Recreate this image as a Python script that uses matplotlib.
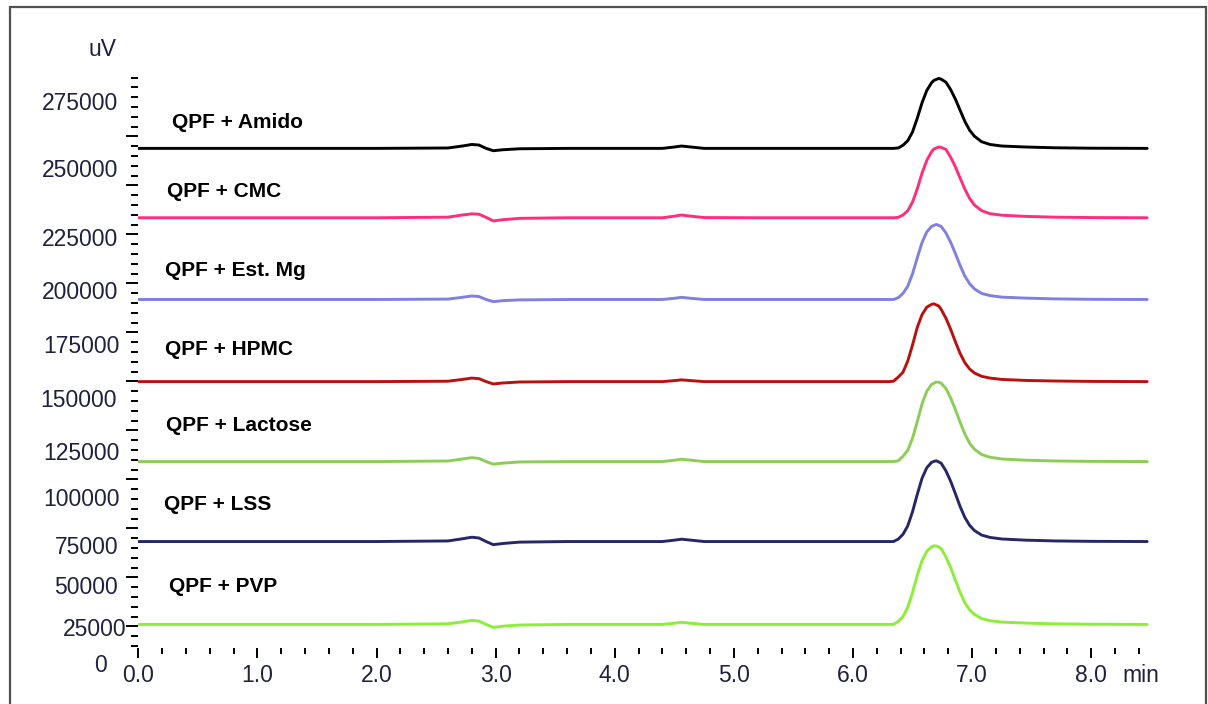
import numpy as np
import matplotlib.pyplot as plt
from matplotlib.patches import Rectangle
from matplotlib.ticker import FixedLocator, MultipleLocator

plt.rcParams['font.family'] = ['Liberation Sans', 'DejaVu Sans']

samples = ["QPF + Amido", "QPF + CMC", "QPF + Est. Mg", "QPF + HPMC",
           "QPF + Lactose", "QPF + LSS", "QPF + PVP"]
colors = ["#000000", "#ff2d7c", "#8080de", "#bb1010",
          "#8ccd55", "#262668", "#8cee38"]

# display offset of each trace (uV)
offsets = [268900, 233500, 191800, 149900, 109100, 68300, 26000]

time_min = [0.0, 1.0, 2.0, 2.6, 2.72, 2.8, 2.86, 2.92, 2.98, 3.06, 3.2, 3.6,
            4.4, 4.5, 4.56, 4.64, 4.75, 5.2, 6.0,
            6.30, 6.34, 6.38, 6.42, 6.46, 6.50, 6.54, 6.58, 6.62, 6.66, 6.68,
            6.70, 6.72, 6.74, 6.78, 6.82, 6.86, 6.90, 6.94, 6.98, 7.02, 7.08,
            7.15, 7.25, 7.45, 7.70, 8.0, 8.47]

amido = [0, 0, 0, 200, 1200, 2000, 1700, 0, -1200, -700, -200, 0,
         0, 700, 1200, 700, 0, 0, 0,
         0, 0, 200, 1600, 3900, 8400, 15400, 23300, 29600, 33500, 34700,
         35200, 35700, 35300, 33800, 30000, 25100, 19400, 13700, 9200, 6200,
         3400, 2000, 1200, 700, 300, 100, 0]
cmc = [0, 0, 0, 300, 1400, 2000, 1800, 200, -1600, -1000, -300, 0,
       0, 800, 1400, 800, 100, 0, 0,
       0, 0, 200, 1400, 3600, 8000, 14800, 22800, 29300, 33700, 35100,
       35600, 36100, 35900, 34900, 30900, 26000, 20200, 14500, 9800, 6500,
       3600, 2100, 1300, 700, 300, 100, 0]
est_mg = [0, 0, 0, 200, 1100, 1800, 1500, 0, -1100, -600, -200, 0,
          0, 600, 1100, 600, 0, 0, 0,
          0, 0, 900, 3100, 6800, 13100, 21300, 29100, 34500, 37300, 37800,
          38300, 37800, 37300, 34000, 29200, 23400, 17300, 11900, 8000, 5400,
          3100, 2000, 1200, 700, 300, 100, 0]
hpmc = [0, 0, 0, 200, 1100, 1800, 1500, 0, -1200, -700, -200, 0,
        0, 500, 900, 500, 0, 0, 0,
        0, 200, 2300, 4800, 10500, 18700, 27700, 34200, 38000, 39400, 39700,
        39100, 38600, 36900, 32400, 26700, 20300, 14300, 9600, 6400, 4400,
        2700, 1800, 1100, 600, 300, 100, 0]
lactose = [0, 0, 0, 300, 1300, 2000, 1600, 0, -1300, -800, -200, 0,
           0, 700, 1200, 700, 0, 0, 0,
           0, 0, 400, 2700, 5800, 11900, 20400, 29500, 35900, 39400, 40000,
           40600, 40500, 40000, 37300, 32500, 26500, 20000, 14000, 9300, 6300,
           3600, 2200, 1300, 700, 300, 100, 0]
lss = [0, 0, 0, 300, 1400, 2200, 1800, 0, -1600, -1000, -300, 0,
       0, 700, 1200, 700, 0, 0, 0,
       0, 0, 1200, 3700, 8000, 15200, 24100, 32300, 37700, 40400, 40900,
       41200, 40600, 40000, 36100, 30800, 24400, 17800, 12200, 8200, 5600,
       3300, 2100, 1300, 700, 300, 100, 0]
pvp = [0, 0, 0, 300, 1300, 2100, 1700, 0, -1500, -900, -300, 0,
       0, 600, 1100, 600, 0, 0, 0,
       0, 0, 1500, 4000, 8800, 16300, 25100, 32600, 37300, 39600, 40100,
       40000, 39500, 38700, 34500, 29000, 22600, 16300, 11000, 7400, 5100,
       3000, 1900, 1200, 700, 300, 100, 0]
signals = [amido, cmc, est_mg, hpmc, lactose, lss, pvp]

x_ticks = [0, 1, 2, 3, 4, 5, 6, 7, 8]
x_tick_text = ["0.0", "1.0", "2.0", "3.0", "4.0", "5.0", "6.0", "7.0", "8.0"]
y_tick_text = ["0", "25000", "50000", "75000", "100000", "125000", "150000",
               "175000", "200000", "225000", "250000", "275000"]

# where the reference puts the y labels and the trace names (layout)
y_text_at = [1900, 20100, 41500, 61900, 86400, 109900, 136900, 164500,
             192000, 219100, 254400, 288500]
y_text_dx = [-31.6, -11.6, -20, -20, -18.3, -18.3, -21.6, -18.3,
             -20, -20, -20, -20]
name_x = [0.280, 0.241, 0.224, 0.224, 0.233, 0.216, 0.258]
name_y = [279500, 244300, 204000, 163700, 124900, 84600, 42300]

tick_col = "#202040"

fig = plt.figure(figsize=(12.08, 7.04), dpi=100)
ax = fig.add_axes([0.1145, 0.05455, 0.8381, 0.8491])

t = np.array(time_min)
for sig, off, col in zip(signals, offsets, colors):
    ax.plot(t, off + np.array(sig), color=col, lw=2.1, solid_capstyle="round",
            solid_joinstyle="round")

ax.set_xlim(0, 8.5)
ax.set_ylim(5000, 310000)
for s in ax.spines.values():
    s.set_visible(False)
ax.spines["bottom"].set_position(("data", 14000))

ax.set_xticks(x_ticks, x_tick_text)
ax.xaxis.set_minor_locator(MultipleLocator(0.2))
ax.tick_params(axis="x", which="major", length=7.2, width=1.4, pad=4.5,
               labelsize=16.5, labelcolor=tick_col, color="black")
ax.tick_params(axis="x", which="minor", length=4.3, width=1.4, color="black")

ax.yaxis.set_major_locator(FixedLocator(np.arange(25000, 275001, 25000)))
ax.yaxis.set_minor_locator(FixedLocator(np.arange(15000, 305001, 5000)))
ax.tick_params(axis="y", which="major", length=8.6, width=1.4,
               labelleft=False, color="black")
ax.tick_params(axis="y", which="minor", length=4.7, width=1.4, color="black")

for s, v, dx in zip(y_tick_text, y_text_at, y_text_dx):
    ax.annotate(s, xy=(0, v), xycoords=ax.get_yaxis_transform(),
                xytext=(dx * 0.72, 0), textcoords="offset points",
                ha="right", va="baseline", fontsize=16.5, color=tick_col)

ax.annotate("min", xy=(8.0, 14000), xycoords="data", annotation_clip=False,
            xytext=(31 * 0.72, -34 * 0.72), textcoords="offset points",
            ha="left", va="baseline", fontsize=16.5, color=tick_col)

fig.text(103 / 1208, 1 - 56 / 704, "uV", ha="center", va="baseline",
         fontsize=16.5, color=tick_col)

for name, x, y in zip(samples, name_x, name_y):
    ax.text(x, y, name, fontsize=15, fontweight="bold", va="baseline",
            ha="left", color="black")

fig.add_artist(Rectangle((10.3 / 1208, -0.05), (1206 - 10.3) / 1208,
                         1.05 - 6.5 / 704, transform=fig.transFigure,
                         fill=False, lw=1.6, ec="#505050"))

fig.savefig("out.png", dpi=100)
